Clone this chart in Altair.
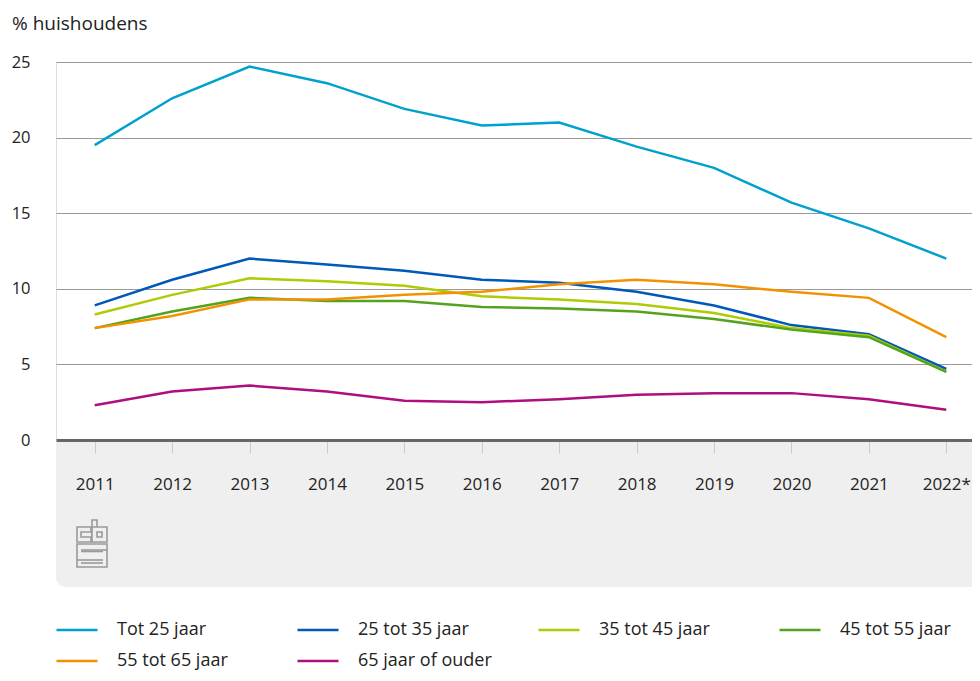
import altair as alt
import pandas as pd

years = list(range(2011, 2023))
series_names = ["Tot 25 jaar", "25 tot 35 jaar", "35 tot 45 jaar",
                "45 tot 55 jaar", "55 tot 65 jaar", "65 jaar of ouder"]
tot25 = [19.5, 22.6, 24.7, 23.6, 21.9, 20.8, 21.0, 19.4, 18.0, 15.7, 14.0, 12.0]
a25_35 = [8.9, 10.6, 12.0, 11.6, 11.2, 10.6, 10.4, 9.8, 8.9, 7.6, 7.0, 4.7]
a35_45 = [8.3, 9.6, 10.7, 10.5, 10.2, 9.5, 9.3, 9.0, 8.4, 7.4, 6.9, 4.5]
a45_55 = [7.4, 8.5, 9.4, 9.2, 9.2, 8.8, 8.7, 8.5, 8.0, 7.3, 6.8, 4.5]
a55_65 = [7.4, 8.2, 9.3, 9.3, 9.6, 9.8, 10.3, 10.6, 10.3, 9.8, 9.4, 6.8]
a65 = [2.3, 3.2, 3.6, 3.2, 2.6, 2.5, 2.7, 3.0, 3.1, 3.1, 2.7, 2.0]
colors = ["#00a1cd", "#0058b8", "#afcb05", "#53a31d", "#f39200", "#af0e80"]
y_ticks = [0, 5, 10, 15, 20, 25]

values = [tot25, a25_35, a35_45, a45_55, a55_65, a65]
rows = []
for name, vals in zip(series_names, values):
    for yr, v in zip(years, vals):
        rows.append({"jaar": yr, "groep": name, "pct": v})
df = pd.DataFrame(rows)

FONT = "Open Sans"
W, H = 916, 378
one = pd.DataFrame({"a": [0]})
LOGO = "#9a9a9a"
BAND = "#efefef"

band = alt.Chart(one).mark_rect(
    color=BAND, cornerRadiusBottomLeft=10
).encode(x=alt.value(0), x2=alt.value(W), y=alt.value(H), y2=alt.value(H + 147))


def box(x1, y1, x2, y2):
    return alt.Chart(one).mark_rect(fill=BAND, stroke=LOGO, strokeWidth=1.6).encode(
        x=alt.value(x1), x2=alt.value(x2), y=alt.value(y1), y2=alt.value(y2))


def hline(x1, x2, y):
    return alt.Chart(one).mark_rule(stroke=LOGO, strokeWidth=1.6).encode(
        x=alt.value(x1), x2=alt.value(x2), y=alt.value(y))


logo = [
    box(21, 465, 35, 480),          # c outer
    box(25, 470, 36, 475),          # c inner cut
    box(36, 458, 41, 466),          # b stem
    box(36, 465, 51, 480),          # b outer
    box(41, 470, 46, 475),          # b hole
    box(21, 482, 51, 505),          # s outer
    hline(25, 51, 488),
    hline(25, 47, 489.5),
    hline(21, 47, 498),
    hline(25, 47, 501),
]

title = alt.Chart(one).mark_text(
    text="% huishoudens", align="left", baseline="middle",
    font=FONT, fontSize=19, color="#222222"
).encode(x=alt.value(-44), y=alt.value(-38))

lines = alt.Chart(df).mark_line(strokeWidth=2.5).encode(
    x=alt.X("jaar:Q",
            scale=alt.Scale(domain=[2010.5, 2022.5], range=[0, 929], nice=False, zero=False),
            axis=alt.Axis(values=years, title=None, format="d",
                          labelExpr="datum.value == 2022 ? '2022*' : datum.label",
                          grid=False, domainColor="#666666", domainWidth=3,
                          tickColor="#cccccc", tickSize=13, tickWidth=1,
                          labelPadding=23, labelFont=FONT, labelFontSize=17,
                          labelColor="#222222", zindex=1)),
    y=alt.Y("pct:Q", scale=alt.Scale(domain=[0, 25], nice=False),
            axis=alt.Axis(values=y_ticks, title=None, domain=False, ticks=False,
                          gridColor="#999999", gridWidth=1, labelPadding=26,
                          labelFont=FONT, labelFontSize=16.5, labelColor="#222222")),
    color=alt.Color("groep:N", sort=series_names,
                    scale=alt.Scale(domain=series_names, range=colors),
                    legend=alt.Legend(title=None, orient="none", direction="horizontal",
                                      legendX=-1, legendY=546,
                                      columns=4, gridAlign="all", symbolType="stroke",
                                      symbolSize=1681, symbolStrokeWidth=2.5,
                                      rowPadding=-9, columnPadding=41, labelOffset=18,
                                      labelFont=FONT, labelFontSize=18,
                                      labelColor="#222222", labelLimit=300)),
)

chart = alt.layer(band, *logo, lines, title).properties(
    width=W, height=H,
    autosize=alt.AutoSizeParams(type="none"),
    padding={"left": 48, "top": 54, "right": 0, "bottom": 233},
).configure_view(stroke=None).configure(background="white")

chart.save("out.html", embed_options={"renderer": "svg", "actions": False})
